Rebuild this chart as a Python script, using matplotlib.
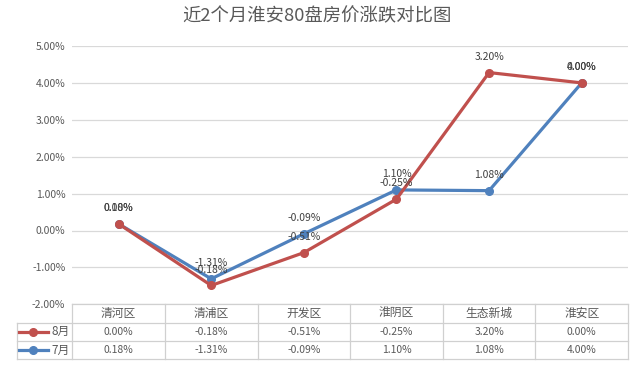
import numpy as np
import matplotlib
matplotlib.use('Agg')
import matplotlib.pyplot as plt
from matplotlib.ticker import FuncFormatter

plt.rcParams['font.family'] = ['Noto Sans CJK SC', 'DejaVu Sans']

title = '近2个月淮安80盘房价涨跌对比图'
cats = ['清河区', '清浦区', '开发区', '淮阴区', '生态新城', '淮安区']
aug = [0.00, -0.18, -0.51, -0.25, 3.20, 0.00]
jul = [0.18, -1.31, -0.09, 1.10, 1.08, 4.00]
yticks = [-2, -1, 0, 1, 2, 3, 4, 5]

red = '#C0504D'
blue = '#4F81BD'
txt = '#595959'
grid = '#D9D9D9'

W, H = 640, 370


def box(l, t, r, b):
    return [l / W, (H - b) / H, (r - l) / W, (b - t) / H]


def main():
    fig = plt.figure(figsize=(6.4, 3.7), dpi=100)
    fig.text(317 / W, 1 - 16 / H, title, ha='center', va='center',
             fontsize=13.2, color=txt)

    ax = fig.add_axes(box(72.3, 46, 628, 304.3))
    x = np.arange(len(cats))
    j = np.array(jul)
    a = np.array(aug)
    stack = j + a  # stacked line: 8月 drawn on top of 7月

    ax.plot(x, j, color=blue, lw=2.3, marker='o', ms=5.5, zorder=3)
    ax.plot(x, stack, color=red, lw=2.3, marker='o', ms=5.5, zorder=4)
    for i in range(len(cats)):
        ax.annotate('%.2f%%' % j[i], (x[i], j[i]), xytext=(0, 11.5),
                    textcoords='offset points', ha='center', va='center',
                    fontsize=7.5, color='#404040', zorder=5)
    for i in range(len(cats)):
        ax.annotate('%.2f%%' % a[i], (x[i], stack[i]), xytext=(0, 11.5),
                    textcoords='offset points', ha='center', va='center',
                    fontsize=7.5, color='#404040', zorder=6)

    ax.set_xlim(-0.5, len(cats) - 0.5)
    ax.set_ylim(-2, 5)
    ax.set_yticks(yticks)
    ax.yaxis.set_major_formatter(FuncFormatter(lambda v, p: '%.2f%%' % v))
    ax.tick_params(axis='y', length=0, labelsize=7.5, labelcolor=txt, pad=5)
    ax.set_xticks([])
    ax.grid(axis='y', color=grid, lw=0.9)
    ax.set_axisbelow(True)
    for s in ax.spines.values():
        s.set_visible(False)

    # data table under the chart
    leg_w = (72.3 - 16.7) / (628 - 72.3) * len(cats)
    tb = fig.add_axes(box(16.7, 304.3, 628, 359.3))
    tb.set_xlim(-0.5 - leg_w, len(cats) - 0.5)
    tb.set_ylim(3, 0)
    tb.axis('off')
    lc = '#D0D0D0'
    lw = 0.9
    # horizontal lines
    tb.plot([-0.5, len(cats) - 0.5], [0, 0], color=lc, lw=lw, clip_on=False)
    for yy in [1, 2, 3]:
        tb.plot([-0.5 - leg_w, len(cats) - 0.5], [yy, yy], color=lc, lw=lw, clip_on=False)
    # vertical lines
    tb.plot([-0.5 - leg_w] * 2, [1, 3], color=lc, lw=lw, clip_on=False)
    for k in range(len(cats) + 1):
        tb.plot([k - 0.5] * 2, [0, 3], color=lc, lw=lw, clip_on=False)

    for i, c in enumerate(cats):
        tb.text(i, 0.5, c, ha='center', va='center', fontsize=8.5, color=txt)
        tb.text(i, 1.5, '%.2f%%' % aug[i], ha='center', va='center', fontsize=7.5, color=txt)
        tb.text(i, 2.5, '%.2f%%' % jul[i], ha='center', va='center', fontsize=7.5, color=txt)

    lx0 = -0.5 - leg_w + 0.02
    lx1 = lx0 + 0.32
    for row, col, name in [(1.5, red, '8月'), (2.5, blue, '7月')]:
        tb.plot([lx0, lx1], [row, row], color=col, lw=2.3, clip_on=False)
        tb.plot([(lx0 + lx1) / 2], [row], marker='o', ms=5.5, color=col, clip_on=False)
        tb.text(lx1 + 0.04, row, name, ha='left', va='center', fontsize=8.5, color=txt)

    plt.savefig('out.png', dpi=100)


main()
